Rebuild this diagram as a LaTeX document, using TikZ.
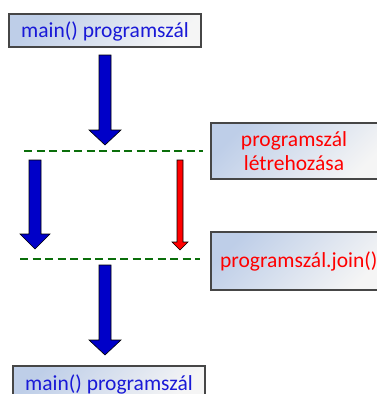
\documentclass[tikz,border=0pt]{standalone}
\usepackage{fontspec}
\setmainfont{Carlito}
\usetikzlibrary{shadows}
\definecolor{txtblue}{RGB}{25,25,215}
\definecolor{arrblue}{RGB}{0,0,200}
\definecolor{dgreen}{RGB}{10,110,10}
\definecolor{boxlo}{RGB}{190,206,232}
\definecolor{boxhi}{RGB}{245,245,245}
\definecolor{boxline}{RGB}{70,70,70}
\tikzset{
  box/.style={draw=boxline, line width=1.2pt, left color=boxlo, right color=boxhi, shading angle=45,
    drop shadow={shadow xshift=1pt, shadow yshift=-1pt, opacity=0.3}},
  sep/.style={draw=dgreen, line width=2.6pt, dash pattern=on 8pt off 4.5pt},
  barrow/.style={fill=arrblue, draw=black, line width=0.6pt, line join=miter},
  rarrow/.style={fill=red, draw=black, line width=0.6pt, line join=miter},
  lbl/.style={font=\fontsize{21.5}{24}\selectfont, align=center, inner sep=0pt}
}
\begin{document}
\begin{tikzpicture}[x=1pt,y=-1pt]
\useasboundingbox (0,0) rectangle (377,394);
\clip (0,0) rectangle (377,394);
% boxes
\path[box] (9,14) rectangle (201,47);
\node[lbl, text=txtblue] (top) at (105,31) {main() programszál};
\path[box] (211,123) rectangle (385,179);
\node[lbl, text=red] (create) at (294,151) {programszál\\létrehozása};
\path[box] (211,232) rectangle (385,290);
\node[lbl, text=red, anchor=west] (join) at (220,261) {programszál.join()};
\path[box] (13,366) rectangle (205,400);
\node[lbl, text=txtblue] (bottom) at (109,384) {main() programszál};
% separators
\coordinate (s1a) at (24,151); \coordinate (s1b) at (203,151);
\coordinate (s2a) at (20,259); \coordinate (s2b) at (200,259);
\draw[sep] (s1a) -- (s1b);
\draw[sep] (s2a) -- (s2b);
% block arrows
\draw[barrow] (99,55) -- (111,55) -- (111,130) -- (121,130) -- (105,145) -- (89,130) -- (99,130) -- cycle;
\draw[barrow] (29,160) -- (41,160) -- (41,234) -- (50,234) -- (35,249) -- (20,234) -- (29,234) -- cycle;
\draw[rarrow] (177,160) -- (183,160) -- (183,242) -- (188,242) -- (180,250) -- (172,242) -- (177,242) -- cycle;
\draw[barrow] (99,265) -- (111,265) -- (111,340) -- (121,340) -- (105,355) -- (89,340) -- (99,340) -- cycle;
\end{tikzpicture}
\end{document}
